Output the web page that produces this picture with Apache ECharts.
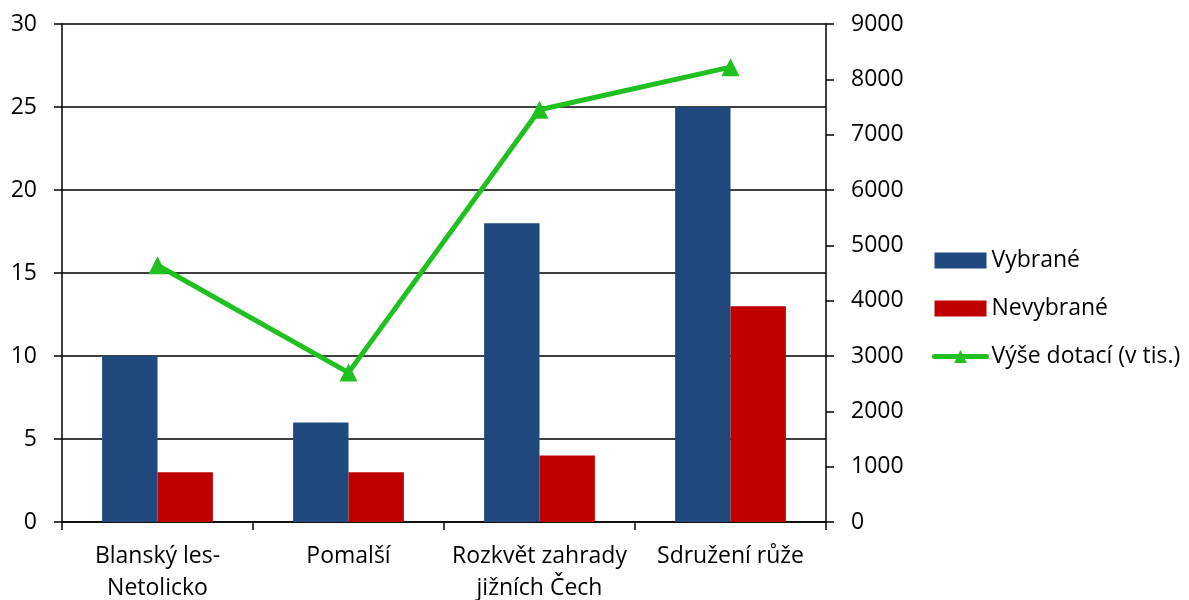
<!DOCTYPE html>
<html>
<head>
<meta charset="utf-8">
<script src="https://cdn.jsdelivr.net/npm/echarts@6/dist/echarts.min.js"></script>
<style>
  html, body { margin: 0; padding: 0; background: #fff; }
  #chart { width: 1189px; height: 600px; }
</style>
</head>
<body>
<div id="chart"></div>
<script>
// chart data
const categories = ['Blanský les-\nNetolicko', 'Pomalší', 'Rozkvět zahrady\njižních Čech', 'Sdružení růže'];
const selected = [10, 6, 18, 25];
const notSelected = [3, 3, 4, 13];
const subsidies = [4640, 2700, 7450, 8220];

const FONT = 'Open Sans';
const FS = 23;
const chart = echarts.init(document.getElementById('chart'));

chart.setOption({
  animation: false,
  textStyle: { fontFamily: FONT, color: '#000' },
  grid: { left: 62, right: 363, top: 24, bottom: 78, outerBoundsMode: 'none' },
  legend: {
    orient: 'vertical',
    left: 932,
    top: 249,
    padding: 0,
    itemWidth: 52,
    itemHeight: 16,
    itemGap: 25,
    textStyle: { fontFamily: FONT, fontSize: FS, color: '#000' },
    lineStyle: { width: 5, cap: 'round' },
    data: [
      { name: 'Vybrané', icon: 'rect' },
      { name: 'Nevybrané', icon: 'rect' },
      'Výše dotací (v tis.)'
    ]
  },
  xAxis: {
    type: 'category',
    data: categories,
    axisLine: { lineStyle: { color: '#000', width: 1.5 } },
    axisTick: { show: true, length: 8, interval: 0, lineStyle: { color: '#000', width: 1.5 } },
    axisLabel: { fontSize: FS, color: '#000', lineHeight: 32, margin: 18, interval: 0 }
  },
  yAxis: [
    {
      type: 'value',
      min: 0, max: 30, interval: 5,
      axisLine: { show: true, lineStyle: { color: '#000', width: 1.5 } },
      axisTick: { show: true, length: 8, lineStyle: { color: '#000', width: 1.5 } },
      axisLabel: { fontSize: FS, color: '#000', margin: 25 },
      splitLine: { show: true, lineStyle: { color: '#000', width: 1.5 } }
    },
    {
      type: 'value',
      min: 0, max: 9000, interval: 1000,
      axisLine: { show: true, lineStyle: { color: '#000', width: 1.5 } },
      axisTick: { show: true, length: 8, lineStyle: { color: '#000', width: 1.5 } },
      axisLabel: { fontSize: FS, color: '#000', margin: 25, formatter: (v) => String(v) },
      splitLine: { show: false }
    }
  ],
  series: [
    {
      name: 'Vybrané',
      type: 'bar',
      data: selected,
      barGap: '0%',
      barCategoryGap: '42%',
      itemStyle: { color: '#1F497D' }
    },
    {
      name: 'Nevybrané',
      type: 'bar',
      data: notSelected,
      itemStyle: { color: '#C00000' }
    },
    {
      name: 'Výše dotací (v tis.)',
      type: 'line',
      yAxisIndex: 1,
      data: subsidies,
      symbol: 'triangle',
      symbolSize: 18,
      lineStyle: { color: '#1FC01F', width: 5 },
      itemStyle: { color: '#1FC01F' }
    }
  ]
});
</script>
</body>
</html>
